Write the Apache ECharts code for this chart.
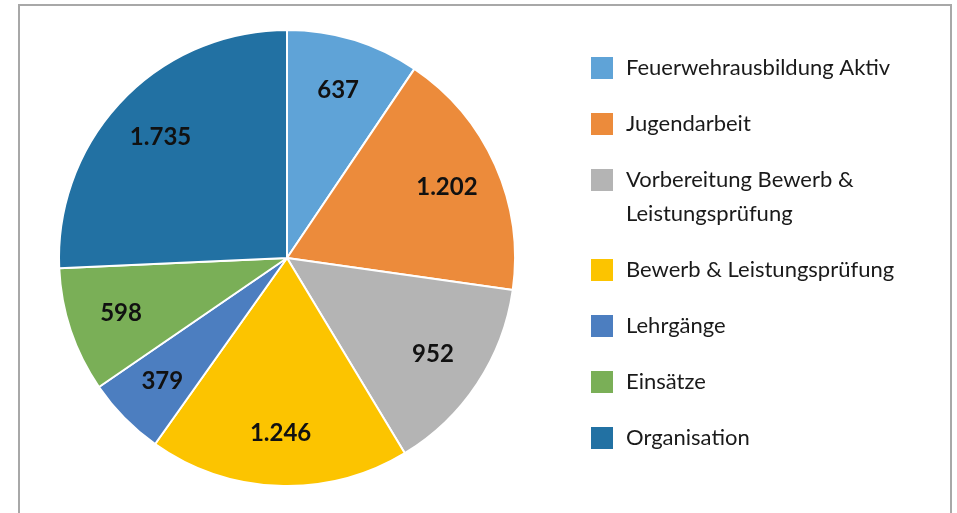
<!DOCTYPE html>
<html>
<head>
<meta charset="utf-8">
<script src="https://cdn.jsdelivr.net/npm/echarts@6/dist/echarts.min.js"></script>
<style>
  html, body { margin: 0; padding: 0; background: #fff; }
  #container { width: 957px; height: 513px; }
</style>
</head>
<body>
<div id="container"></div>
<script>
// Stunden je Bereich
const categories = [
  'Feuerwehrausbildung Aktiv',
  'Jugendarbeit',
  'Vorbereitung Bewerb &\nLeistungsprüfung',
  'Bewerb & Leistungsprüfung',
  'Lehrgänge',
  'Einsätze',
  'Organisation'
]
const values = [637, 1202, 952, 1246, 379, 598, 1735]
const colors = ['#5fa3d7', '#ec8b3b', '#b4b4b4', '#fcc400', '#4c7ec0', '#7aaf57', '#2271a3']

const fontFamily = 'Lato, "Noto Sans", sans-serif'

// Tausenderpunkt wie im Original
function fmt(v) {
  return String(v).replace(/\B(?=(\d{3})+(?!\d))/g, '.')
}

let chartDom = document.getElementById('container')
let myChart = echarts.init(chartDom, null, { renderer: 'canvas' })

let pieData = categories.map(function(name, i) {
  return { name: name, value: values[i], itemStyle: { color: colors[i] } }
})

// eine Legende je Eintrag, damit der zweizeilige Eintrag oben am Symbol steht
let legends = categories.map(function(name, i) {
  let iconTop = 56 + i * 56 + (i > 2 ? 34 : 0)
  let twoLines = name.indexOf('\n') >= 0
  return {
    data: [name],
    orient: 'vertical',
    left: 589,
    // Textbox ist höher als das Symbol -> um den Überstand nach oben korrigieren
    // bei zwei Zeilen eine leere Zeile davor, so sitzt die erste Zeile mittig am Symbol
    top: twoLines ? iconTop - 39 : iconTop - 5,
    padding: 0,
    icon: 'rect',
    itemWidth: 24,
    itemHeight: 24,
    selectedMode: false,
    formatter: twoLines ? function(n) { return ' \n' + n } : '{name}',
    textStyle: {
      fontFamily: fontFamily,
      fontSize: 22,
      color: '#1a1a1a',
      lineHeight: 34,
      padding: [0, 0, 0, 7]
    }
  }
})

let option = {
  animation: false,
  color: colors,
  legend: legends,
  graphic: [
    {
      type: 'rect',
      shape: { x: 19, y: 5, width: 932, height: 540 },
      style: { fill: 'none', stroke: '#a8a8a8', lineWidth: 2 },
      silent: true,
      z: -1
    }
  ],
  series: [
    {
      name: 'Stunden',
      type: 'pie',
      center: [287, 258],
      radius: [0, 228],
      startAngle: 90,
      clockwise: true,
      avoidLabelOverlap: false,
      itemStyle: { borderColor: '#fff', borderWidth: 2 },
      label: { show: false },
      labelLine: { show: false },
      emphasis: { disabled: true },
      data: pieData
    },
    {
      // unsichtbarer Ring nur für die Beschriftung weiter außen
      name: 'Beschriftung',
      type: 'pie',
      center: [287, 258],
      radius: [116, 228],
      startAngle: 90,
      clockwise: true,
      silent: true,
      avoidLabelOverlap: false,
      itemStyle: { color: 'transparent', borderWidth: 0 },
      label: {
        show: true,
        position: 'inside',
        fontFamily: fontFamily,
        fontSize: 24,
        fontWeight: 'bold',
        color: '#111',
        formatter: function(p) { return fmt(p.value) }
      },
      labelLine: { show: false },
      emphasis: { disabled: true },
      data: categories.map(function(name, i) { return { name: name, value: values[i] } })
    }
  ]
}

option && myChart.setOption(option)
window.addEventListener('resize', function() {
  myChart.resize()
})
</script>
</body>
</html>
